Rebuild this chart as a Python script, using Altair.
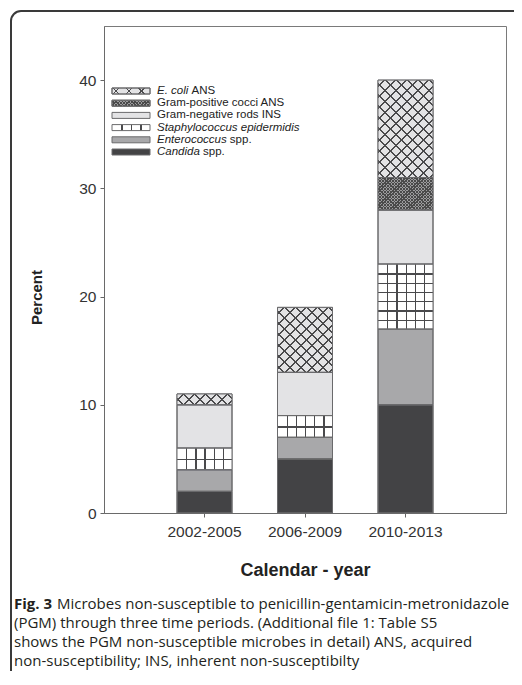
import altair as alt
import pandas as pd

# ---------------- data ----------------
years = ["2002-2005", "2006-2009", "2010-2013"]
categories = ["Candida spp.", "Enterococcus spp.", "Staphylococcus epidermidis",
              "Gram-negative rods INS", "Gram-positive cocci ANS", "E. coli ANS"]
candida = [2, 5, 10]
enterococcus = [2, 2, 7]
staph_epi = [2, 2, 6]
gram_neg_rods = [4, 4, 5]
gram_pos_cocci = [0, 0, 3]
e_coli = [1, 6, 9]
y_ticks = [0, 10, 20, 30, 40]

legend_order = ["E. coli ANS", "Gram-positive cocci ANS", "Gram-negative rods INS",
                "Staphylococcus epidermidis", "Enterococcus spp.", "Candida spp."]
legend_italic = ["E. coli", "", "", "Staphylococcus epidermidis", "Enterococcus", "Candida"]
legend_roman = ["ANS", "Gram-positive cocci ANS", "Gram-negative rods INS", "", "spp.", "spp."]

x_title = "Calendar - year"
y_title = "Percent"
caption_bold = "Fig. 3"
caption_first = "Microbes non-susceptible to penicillin-gentamicin-metronidazole"
caption_lines = [
    "(PGM) through three time periods. (Additional file 1: Table S5",
    "shows the PGM non-susceptible microbes in detail) ANS, acquired",
    "non-susceptibility; INS, inherent non-susceptibilty",
]

series = [candida, enterococcus, staph_epi, gram_neg_rods, gram_pos_cocci, e_coli]
rows = []
for i, yr in enumerate(years):
    acc = 0
    for cat, vals in zip(categories, series):
        v = vals[i]
        if v > 0:
            rows.append({"year": yr, "category": cat, "start": acc, "end": acc + v, "value": v})
        acc += v
df = pd.DataFrame(rows)

# ---------------- styling ----------------
W, H = 402, 487
YMAX = 45
PX = H / YMAX
STEP = W / 4
BAR_W = 55
P_IN = 1 - BAR_W / STEP
P_OUT = (1 + P_IN) / 2

C_DARK = "#434345"
C_MID = "#a8a8aa"
C_LIGHT = "#e3e3e5"
C_LINE = "#4a4a4c"
C_STROKE = "#6a6a6c"
C_GP_BG = "#9c9c9e"
TRANSP = "rgba(255,255,255,0)"
base_fills = [C_DARK, C_MID, "#ffffff", C_LIGHT, "#777779", C_LIGHT]


def grad(offsets, lw, bg, fg, x1, y1, x2, y2):
    stops = []
    prev = 0.0
    for o in offsets:
        a = max(min(o, 1.0), prev)
        b = min(a + lw, 1.0)
        stops += [{"offset": round(prev, 5), "color": bg}, {"offset": round(a, 5), "color": bg},
                  {"offset": round(a, 5), "color": fg}, {"offset": round(b, 5), "color": fg}]
        prev = b
    stops += [{"offset": round(prev, 5), "color": bg}, {"offset": 1, "color": bg}]
    return {"gradient": "linear", "x1": x1, "y1": y1, "x2": x2, "y2": y2, "stops": stops}


def diag(w, h, period, lw, bg, fg, direction, phase=0.5):
    L = w + h
    c = L / (w * w + h * h)
    offs = []
    k = 0
    while (k + phase) * period / L < 1:
        offs.append((k + phase) * period / L)
        k += 1
    if direction == 1:
        return grad(offs, lw / L, bg, fg, 0, 0, w * c, h * c)
    return grad(offs, lw / L, bg, fg, 0, 1, w * c, 1 - h * c)


def cols(n, w, lw, bg, fg):
    return grad([k / n for k in range(1, n)], lw / w, bg, fg, 0, 0, 1, 0)


def rowsg(n, h, lw, bg, fg):
    return grad([k / n for k in range(1, n)], lw / h, bg, fg, 0, 0, 0, 1)


# ---------------- main bars ----------------
X = alt.X("year:N", sort=years,
          scale=alt.Scale(domain=years, paddingInner=P_IN, paddingOuter=P_OUT),
          axis=alt.Axis(title=x_title, labelAngle=0, labelFont="Liberation Sans", labelFontSize=15.5,
                        labelColor="#333333", labelPadding=7, tickSize=4, tickColor="#666666",
                        domainColor="#6a6a6a", titleFont="Liberation Sans", titleFontSize=18,
                        titleFontWeight="bold", titleColor="#222222", titlePadding=22))
Y = alt.Y("start:Q", scale=alt.Scale(domain=[0, YMAX], nice=False, zero=True),
          axis=alt.Axis(values=y_ticks, title=y_title, grid=False, labelFont="Liberation Sans",
                        labelFontSize=15.5, labelColor="#333333", labelPadding=4, tickSize=4,
                        tickColor="#666666", domainColor="#6a6a6a", titleFont="Liberation Sans",
                        titleFontSize=15, titleFontWeight="bold", titleColor="#222222",
                        titlePadding=34, titleY=271))

base = alt.Chart(df).encode(x=X, y=Y, y2="end:Q")


def seg(cat, yr=None):
    t = f"datum.category === '{cat}'"
    if yr is not None:
        t += f" && datum.year === '{yr}'"
    return base.transform_filter(t)


main_layers = [
    base.mark_bar(stroke=C_STROKE, strokeWidth=1).encode(
        fill=alt.Fill("category:N", scale=alt.Scale(domain=categories, range=base_fills), legend=None)),
    seg("Staphylococcus epidermidis").mark_bar(fill=cols(6, BAR_W, 1.3, "#ffffff", C_LINE)),
]
for i, yr in enumerate(years):
    h = staph_epi[i] * PX
    main_layers.append(seg("Staphylococcus epidermidis", yr).mark_bar(
        fill=rowsg(max(1, round(h / 9.3)), h, 1.3, TRANSP, C_LINE)))
    h = e_coli[i] * PX
    main_layers.append(seg("E. coli ANS", yr).mark_bar(fill=diag(BAR_W, h, 11, 1.7, C_LIGHT, C_LINE, 1)))
    main_layers.append(seg("E. coli ANS", yr).mark_bar(fill=diag(BAR_W, h, 11, 1.7, TRANSP, C_LINE, -1)))
    if gram_pos_cocci[i] > 0:
        h = gram_pos_cocci[i] * PX
        main_layers.append(seg("Gram-positive cocci ANS", yr).mark_bar(
            fill=diag(BAR_W, h, 3.2, 1.3, C_GP_BG, "#4a4a4a", 1)))
        main_layers.append(seg("Gram-positive cocci ANS", yr).mark_bar(
            fill=diag(BAR_W, h, 3.2, 1.3, TRANSP, "#4a4a4a", -1)))
main_layers.append(base.mark_bar(fill="transparent", stroke=C_STROKE, strokeWidth=1))
main = alt.layer(*main_layers)

# ---------------- legend (inside plot) ----------------
ROW = 12.2
ROW0 = 65
ldf = pd.DataFrame({"cat": legend_order, "it": legend_italic, "ro": legend_roman})
LY = alt.Y("cat:N", sort=legend_order,
           scale=alt.Scale(domain=legend_order, range=[ROW0 - ROW / 2, ROW0 - ROW / 2 + 6 * ROW],
                           paddingInner=1 - 6 / ROW, paddingOuter=(1 - 6 / ROW) / 2), axis=None)
lbase = alt.Chart(ldf).encode(y=LY)
SW_X0, SW_X1, TX = 8, 46, 53
SW_W, SW_H = SW_X1 - SW_X0, 6
LFS = 11.5


def lsw(cat, fill, stroke=C_STROKE):
    return lbase.transform_filter(f"datum.cat === '{cat}'").mark_rect(
        fill=fill, stroke=stroke, strokeWidth=1).encode(x=alt.value(SW_X0), x2=alt.value(SW_X1))


legend_layers = [
    lsw("E. coli ANS", diag(SW_W, SW_H, 12.7, 1.4, C_LIGHT, C_LINE, 1)),
    lsw("E. coli ANS", diag(SW_W, SW_H, 12.7, 1.4, TRANSP, C_LINE, -1)),
    lsw("Gram-positive cocci ANS", diag(SW_W, SW_H, 3.2, 1.3, C_GP_BG, "#4a4a4a", 1)),
    lsw("Gram-positive cocci ANS", diag(SW_W, SW_H, 3.2, 1.3, TRANSP, "#4a4a4a", -1)),
    lsw("Gram-negative rods INS", C_LIGHT),
    lsw("Staphylococcus epidermidis", cols(4, SW_W, 1.3, "#ffffff", C_LINE)),
    lsw("Enterococcus spp.", C_MID),
    lsw("Candida spp.", C_DARK),
    lbase.transform_filter("datum.it !== ''").mark_text(
        align="left", baseline="middle", font="Liberation Sans", fontSize=LFS,
        fontStyle="italic", color="#222222").encode(x=alt.value(TX), text="it:N"),
]

ARIAL = {" ": 278, ".": 278, "C": 722, "E": 667, "S": 667, "a": 556, "c": 500, "d": 556,
         "e": 556, "i": 222, "l": 222, "m": 833, "n": 556, "o": 556, "p": 556, "r": 333,
         "s": 500, "t": 278, "u": 556, "y": 500, "h": 556}


def tw(s, size):
    return sum(ARIAL.get(ch, 556) for ch in s) * size / 1000.0


for cat, it, ro in zip(legend_order, legend_italic, legend_roman):
    if ro:
        xoff = TX + (tw(it + " ", LFS) if it else 0)
        legend_layers.append(lbase.transform_filter(f"datum.cat === '{cat}'").mark_text(
            align="left", baseline="middle", font="Liberation Sans", fontSize=LFS,
            color="#222222").encode(x=alt.value(xoff), text="ro:N"))
legend = alt.layer(*legend_layers)

# ---------------- frame and caption ----------------
one = pd.DataFrame({"k": [0]})
frame = alt.Chart(one).mark_rect(fill="transparent", stroke="#3a3a3a", strokeWidth=2,
                                 cornerRadius=10).encode(
    x=alt.value(-93), x2=alt.value(440), y=alt.value(-15), y2=alt.value(720))

CFS = 15
CAP_Y0, CAP_DY = 583, 19
cap_style = dict(align="left", baseline="alphabetic", font="Open Sans", fontSize=CFS, color="#231f20")
CX0 = -90
caption = [
    alt.Chart(one).mark_text(text=caption_bold, fontWeight="bold", **cap_style).encode(
        x=alt.value(CX0), y=alt.value(CAP_Y0)),
    alt.Chart(one).mark_text(text=caption_first, **cap_style).encode(
        x=alt.value(-47), y=alt.value(CAP_Y0)),
]
for j, line in enumerate(caption_lines):
    caption.append(alt.Chart(one).mark_text(text=line, **cap_style).encode(
        x=alt.value(CX0), y=alt.value(CAP_Y0 + CAP_DY * (j + 1))))

chart = alt.layer(main, legend, frame, *caption).resolve_scale(y="independent").properties(
    width=W, height=H,
    padding={"left": 96, "top": 18, "right": 8, "bottom": 158},
    autosize=alt.AutoSizeParams(type="none"),
).configure_view(stroke="#7a7a7a", strokeWidth=1)

chart.save("out.html", embed_options={"renderer": "svg", "actions": False})
